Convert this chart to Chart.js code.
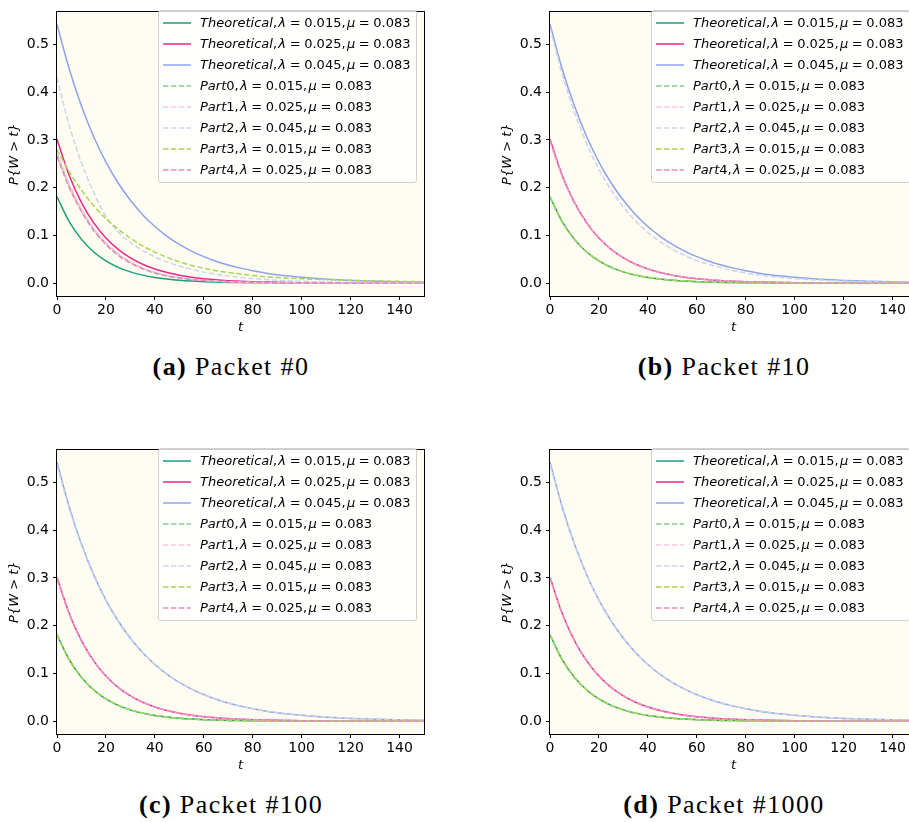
<!DOCTYPE html>
<html><head><meta charset="utf-8">
<script src="https://cdn.jsdelivr.net/npm/chart.js@4"></script>
<style>
html,body{margin:0;padding:0;width:909px;height:822px;overflow:hidden;background:#fff;}
.panel{position:absolute;width:440px;height:345px;}
.panel canvas{position:absolute;left:0;top:0;}
.legend{position:absolute;left:158px;top:10px;width:257px;height:170px;border:1px solid #d0d0d0;border-radius:3px;background:rgba(255,255,255,0.8);padding-top:1px;font-family:'DejaVu Sans',sans-serif;font-size:13px;color:#000;}
.row{display:flex;align-items:center;height:21px;white-space:nowrap;word-spacing:-0.5px;}
.row svg{margin-left:4px;margin-right:9px;flex:none;}
.caption{position:absolute;width:400px;text-align:center;font-family:'Liberation Serif',serif;font-size:26px;letter-spacing:1.4px;line-height:30px;height:30px;color:#000;}
</style></head><body>
<script>
// ---- data ----
const T = [0,5,10,15,20,25,30,35,40,45,50,55,60,65,70,75,80,85,90,95,100,105,110,115,120,125,130,135,140,145,150];
const xTicks = [0,20,40,60,80,100,120,140];
const yTicks = [0.0,0.1,0.2,0.3,0.4,0.5];

const theo015 = [0.1807,0.1286,0.0916,0.0652,0.0464,0.0330,0.0235,0.0167,0.0119,0.0085,0.0060,0.0043,0.0031,0.0022,0.0015,0.0011,0.0008,0.0006,0.0004,0.0003,0.0002,0.0002,0.0001,0.0001,0.0001,0,0,0,0,0,0];
const theo025 = [0.3012,0.2254,0.1686,0.1262,0.0944,0.0707,0.0529,0.0396,0.0296,0.0221,0.0166,0.0124,0.0093,0.0069,0.0052,0.0039,0.0029,0.0022,0.0016,0.0012,0.0009,0.0007,0.0005,0.0004,0.0003,0.0002,0.0002,0.0001,0.0001,0.0001,0];
const theo045 = [0.5422,0.4484,0.3708,0.3066,0.2536,0.2097,0.1734,0.1434,0.1186,0.0981,0.0811,0.0671,0.0555,0.0459,0.0379,0.0314,0.0259,0.0214,0.0177,0.0147,0.0121,0.0100,0.0083,0.0069,0.0057,0.0047,0.0039,0.0032,0.0027,0.0022,0.0018];

// Packet #0
const a_part0 = [0.270,0.204,0.153,0.113,0.083,0.060,0.044,0.031,0.022,0.0155,0.011,0.0078,0.0055,0.004,0.0028,0.002,0.0014,0.001,0.0007,0.0005,0.0004,0.0003,0.0002,0.0002,0.0001,0.0001,0.0001,0,0,0,0];
const a_part1 = [0.275,0.208,0.156,0.115,0.085,0.062,0.045,0.032,0.023,0.016,0.0115,0.0082,0.0058,0.0042,0.003,0.0021,0.0015,0.0011,0.0008,0.0006,0.0004,0.0003,0.0002,0.0002,0.0001,0.0001,0.0001,0,0,0,0];
const a_part2 = [0.430,0.330,0.252,0.190,0.140,0.107,0.085,0.068,0.055,0.044,0.036,0.029,0.023,0.019,0.015,0.012,0.0095,0.0075,0.006,0.0048,0.0038,0.003,0.0024,0.0019,0.0015,0.0012,0.001,0.0008,0.0006,0.0005,0.0004];
const a_part3 = [0.280,0.233,0.195,0.162,0.135,0.113,0.094,0.078,0.065,0.054,0.045,0.037,0.031,0.026,0.022,0.019,0.016,0.0135,0.0115,0.0103,0.0092,0.0082,0.0073,0.0065,0.0058,0.0052,0.0046,0.0041,0.0037,0.0033,0.003];
const a_part4 = [0.265,0.200,0.150,0.110,0.081,0.058,0.042,0.030,0.021,0.015,0.0105,0.0075,0.0053,0.0038,0.0027,0.0019,0.0014,0.001,0.0007,0.0005,0.0004,0.0003,0.0002,0.0001,0.0001,0.0001,0,0,0,0,0];
// Packet #10
const b_part0 = [0.179,0.1278,0.0912,0.0650,0.0463,0.0330,0.0235,0.0168,0.0120,0.0086,0.0061,0.0044,0.0031,0.0022,0.0016,0.0011,0.0008,0.0006,0.0004,0.0003,0.0002,0.0002,0.0001,0.0001,0.0001,0,0,0,0,0,0];
const b_part1 = [0.296,0.2225,0.1670,0.1253,0.0940,0.0706,0.0530,0.0398,0.0298,0.0224,0.0168,0.0126,0.0095,0.0071,0.0053,0.0040,0.0030,0.0023,0.0017,0.0013,0.0010,0.0007,0.0005,0.0004,0.0003,0.0002,0.0002,0.0001,0.0001,0.0001,0.0001];
const b_part2 = [0.535,0.437,0.358,0.292,0.238,0.195,0.159,0.130,0.106,0.087,0.071,0.058,0.047,0.039,0.032,0.026,0.021,0.0173,0.0142,0.0116,0.0095,0.0078,0.0064,0.0052,0.0043,0.0035,0.0029,0.0023,0.0019,0.0016,0.0013];
const b_part3 = [0.181,0.1288,0.0918,0.0654,0.0466,0.0332,0.0236,0.0168,0.0120,0.0085,0.0061,0.0043,0.0031,0.0022,0.0016,0.0011,0.0008,0.0006,0.0004,0.0003,0.0002,0.0002,0.0001,0.0001,0.0001,0,0,0,0,0,0];
const b_part4 = [0.299,0.2245,0.1682,0.1260,0.0944,0.0708,0.0531,0.0398,0.0298,0.0223,0.0167,0.0125,0.0094,0.0070,0.0053,0.0040,0.0030,0.0022,0.0017,0.0012,0.0009,0.0007,0.0005,0.0004,0.0003,0.0002,0.0002,0.0001,0.0001,0.0001,0];
// Packet #100
const c_part0 = [0.180,0.1283,0.0914,0.0651,0.0464,0.0330,0.0235,0.0167,0.0119,0.0085,0.0060,0.0043,0.0031,0.0022,0.0015,0.0011,0.0008,0.0006,0.0004,0.0003,0.0002,0.0002,0.0001,0.0001,0.0001,0,0,0,0,0,0];
const c_part1 = [0.300,0.2250,0.1684,0.1261,0.0944,0.0707,0.0529,0.0396,0.0296,0.0222,0.0166,0.0124,0.0093,0.0070,0.0052,0.0039,0.0029,0.0022,0.0016,0.0012,0.0009,0.0007,0.0005,0.0004,0.0003,0.0002,0.0002,0.0001,0.0001,0.0001,0];
const c_part2 = [0.537,0.4455,0.3690,0.3053,0.2527,0.2091,0.1730,0.1431,0.1184,0.0980,0.0810,0.0670,0.0554,0.0458,0.0379,0.0313,0.0259,0.0214,0.0177,0.0146,0.0121,0.0100,0.0083,0.0068,0.0056,0.0047,0.0039,0.0032,0.0026,0.0022,0.0018];
const c_part3 = [0.181,0.1287,0.0917,0.0653,0.0465,0.0331,0.0235,0.0168,0.0119,0.0085,0.0060,0.0043,0.0031,0.0022,0.0015,0.0011,0.0008,0.0006,0.0004,0.0003,0.0002,0.0002,0.0001,0.0001,0.0001,0,0,0,0,0,0];
const c_part4 = [0.298,0.2240,0.1680,0.1259,0.0943,0.0706,0.0529,0.0396,0.0296,0.0222,0.0166,0.0124,0.0093,0.0069,0.0052,0.0039,0.0029,0.0022,0.0016,0.0012,0.0009,0.0007,0.0005,0.0004,0.0003,0.0002,0.0002,0.0001,0.0001,0.0001,0];
// Packet #1000
const d_part0 = [0.181,0.1285,0.0915,0.0652,0.0464,0.0330,0.0235,0.0167,0.0119,0.0085,0.0060,0.0043,0.0031,0.0022,0.0015,0.0011,0.0008,0.0006,0.0004,0.0003,0.0002,0.0002,0.0001,0.0001,0.0001,0,0,0,0,0,0];
const d_part1 = [0.301,0.2252,0.1685,0.1262,0.0944,0.0707,0.0529,0.0396,0.0296,0.0221,0.0166,0.0124,0.0093,0.0069,0.0052,0.0039,0.0029,0.0022,0.0016,0.0012,0.0009,0.0007,0.0005,0.0004,0.0003,0.0002,0.0002,0.0001,0.0001,0.0001,0];
const d_part2 = [0.538,0.4465,0.3698,0.3060,0.2532,0.2094,0.1732,0.1433,0.1185,0.0980,0.0811,0.0670,0.0555,0.0459,0.0379,0.0314,0.0259,0.0214,0.0177,0.0147,0.0121,0.0100,0.0083,0.0069,0.0057,0.0047,0.0039,0.0032,0.0027,0.0022,0.0018];
const d_part3 = [0.180,0.1284,0.0915,0.0652,0.0464,0.0330,0.0235,0.0167,0.0119,0.0085,0.0060,0.0043,0.0031,0.0022,0.0015,0.0011,0.0008,0.0006,0.0004,0.0003,0.0002,0.0002,0.0001,0.0001,0.0001,0,0,0,0,0,0];
const d_part4 = [0.300,0.2250,0.1684,0.1261,0.0944,0.0707,0.0529,0.0396,0.0296,0.0221,0.0166,0.0124,0.0093,0.0069,0.0052,0.0039,0.0029,0.0022,0.0016,0.0012,0.0009,0.0007,0.0005,0.0004,0.0003,0.0002,0.0002,0.0001,0.0001,0.0001,0];

const seriesNames = ['Theoretical','Theoretical','Theoretical','Part0','Part1','Part2','Part3','Part4'];
const lambdas = ['0.015','0.025','0.045','0.015','0.025','0.045','0.015','0.025'];
const mu = '0.083';
const captions = [['(a)','Packet #0'],['(b)','Packet #10'],['(c)','Packet #100'],['(d)','Packet #1000']];

// ---- style ----
const colors = ['#1b9e77','#e7298a','#8da2ec','#86cf86','#f9c6e2','#cbd5ea','#a6d854','#e78ac3'];
const DASH = [5.5,2.4];
const FONT = "'DejaVu Sans', sans-serif";
const TICKSIZE = 14;

const framePlugin = {
  id:'frame',
  beforeDraw(c){const {ctx,chartArea:a}=c;ctx.save();ctx.fillStyle='#fffcf2';ctx.fillRect(a.left,a.top,a.right-a.left,a.bottom-a.top);ctx.restore();},
  afterDraw(c){const {ctx,chartArea:a}=c;ctx.save();ctx.strokeStyle='#000';ctx.lineWidth=1;
    ctx.strokeRect(Math.round(a.left)-0.5,Math.round(a.top)-0.5,Math.round(a.right-a.left)+1,Math.round(a.bottom-a.top)+1);ctx.restore();}
};

const panelDefs = [
  {x:0,y:0,parts:[a_part0,a_part1,a_part2,a_part3,a_part4]},
  {x:493,y:0,parts:[b_part0,b_part1,b_part2,b_part3,b_part4]},
  {x:0,y:438,parts:[c_part0,c_part1,c_part2,c_part3,c_part4]},
  {x:493,y:438,parts:[d_part0,d_part1,d_part2,d_part3,d_part4]}
];

function labelText(i){return seriesNames[i]+', λ = '+lambdas[i]+', μ = '+mu;}
function labelHTML(i){
  const n = seriesNames[i];
  const name = n==='Theoretical' ? '<i>Theoretical</i>' : '<i>'+n.slice(0,4)+'</i>'+n.slice(4);
  return name+',\u200A<i>λ</i> = '+lambdas[i]+',\u200A<i>μ</i> = '+mu;
}

panelDefs.forEach((p,pi)=>{
  const div=document.createElement('div');div.className='panel';div.style.left=p.x+'px';div.style.top=p.y+'px';
  const cv=document.createElement('canvas');cv.width=440;cv.height=345;cv.style.width='440px';cv.style.height='345px';
  div.appendChild(cv);document.body.appendChild(div);
  const series=[theo015,theo025,theo045].concat(p.parts);
  const datasets=series.map((vals,i)=>({
    label:labelText(i),
    data:T.map((t,k)=>({x:t,y:vals[k]})),
    borderColor:colors[i],backgroundColor:colors[i],borderWidth:1.5,
    borderDash:i<3?[]:DASH,pointRadius:0,fill:false,
    cubicInterpolationMode:'monotone',order:10-i
  }));
  new Chart(cv,{type:'line',data:{datasets},plugins:[framePlugin],options:{
    responsive:false,animation:false,devicePixelRatio:1,
    layout:{padding:{top:5,right:16,left:0,bottom:0}},
    plugins:{legend:{display:false},tooltip:{enabled:false}},
    scales:{
      x:{type:'linear',min:0,max:150,
        afterBuildTicks:s=>{s.ticks=xTicks.map(v=>({value:v}));},
        afterFit:s=>{s.height=49;},
        ticks:{autoSkip:false,maxRotation:0,padding:2,color:'#000',font:{family:FONT,size:TICKSIZE},callback:v=>String(v)},
        grid:{display:true,drawOnChartArea:false,drawTicks:true,tickLength:4,color:'#000',lineWidth:1},
        border:{display:false},
        title:{display:true,text:'t',color:'#000',font:{family:FONT,size:13,style:'italic'},padding:{top:0,bottom:10}}
      },
      y:{type:'linear',min:-0.027,max:0.567,
        afterBuildTicks:s=>{s.ticks=yTicks.map(v=>({value:v}));},
        afterFit:s=>{s.width=57;},
        ticks:{padding:4,color:'#000',font:{family:FONT,size:TICKSIZE},callback:v=>Number(v).toFixed(1)},
        grid:{display:true,drawOnChartArea:false,drawTicks:true,tickLength:4,color:'#000',lineWidth:1},
        border:{display:false},
        title:{display:true,text:'P{W > t}',color:'#000',font:{family:FONT,size:13,style:'italic'},padding:{top:7,bottom:0}}
      }
    }
  }});
  // legend
  const lg=document.createElement('div');lg.className='legend';
  series.forEach((v,i)=>{
    const row=document.createElement('div');row.className='row';
    const dash=i<3?'':' stroke-dasharray="'+DASH.join(',')+'"';
    row.innerHTML='<svg width="28" height="4"><line x1="0" y1="2" x2="28" y2="2" stroke="'+colors[i]+'" stroke-width="1.5"'+dash+'/></svg><span>'+labelHTML(i)+'</span>';
    lg.appendChild(row);
  });
  div.appendChild(lg);
  // caption
  const cap=document.createElement('div');cap.className='caption';
  cap.style.left=(p.x+231-200)+'px';cap.style.top=(p.y+352)+'px';
  cap.innerHTML='<b>'+captions[pi][0]+'</b> '+captions[pi][1];
  document.body.appendChild(cap);
});
</script>
</body></html>
